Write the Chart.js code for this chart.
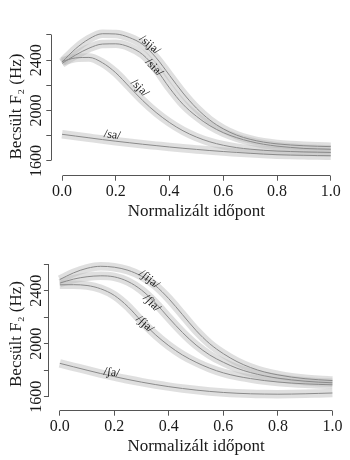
<!DOCTYPE html>
<html>
<head>
<meta charset="utf-8">
<script src="https://cdn.jsdelivr.net/npm/chart.js@4/dist/chart.umd.min.js"></script>
<style>
  html, body { margin: 0; padding: 0; background: #fff; }
  canvas { display: block; }
</style>
</head>
<body>
<canvas id="top" width="350" height="230"></canvas>
<canvas id="bottom" width="350" height="230"></canvas>
<script>
// normalised time points
const TIME = [0, 0.05, 0.1, 0.15, 0.2, 0.25, 0.3, 0.35, 0.4, 0.45, 0.5,
  0.55, 0.6, 0.65, 0.7, 0.75, 0.8, 0.85, 0.9, 0.95, 1];

// estimated F2 (Hz), upper panel
const SIJA = [2385, 2490, 2568, 2610, 2608, 2580, 2525, 2420, 2280, 2140, 2020,
  1925, 1855, 1805, 1772, 1750, 1736, 1727, 1721, 1717, 1714];
const SIA = [2375, 2440, 2495, 2528, 2530, 2505, 2445, 2330, 2180, 2050, 1955,
  1880, 1825, 1785, 1755, 1733, 1718, 1708, 1700, 1696, 1693];
const SJA = [2390, 2418, 2422, 2380, 2300, 2190, 2080, 1985, 1905, 1840, 1790,
  1752, 1725, 1706, 1694, 1685, 1679, 1675, 1672, 1670, 1668];
const SA = [1812, 1798, 1784, 1770, 1757, 1745, 1733, 1722, 1711, 1701, 1692,
  1683, 1675, 1668, 1661, 1655, 1650, 1647, 1645, 1643, 1642];

// estimated F2 (Hz), lower panel
const SHIJA = [2485, 2535, 2570, 2585, 2578, 2555, 2510, 2440, 2340, 2220, 2100,
  2000, 1925, 1865, 1820, 1787, 1765, 1748, 1736, 1728, 1722];
const SHIA = [2458, 2488, 2506, 2513, 2505, 2470, 2405, 2310, 2195, 2085, 1990,
  1915, 1860, 1815, 1782, 1758, 1740, 1727, 1717, 1710, 1705];
const SHJA = [2445, 2446, 2440, 2415, 2365, 2280, 2170, 2070, 1985, 1915, 1860,
  1815, 1780, 1755, 1737, 1722, 1711, 1703, 1697, 1693, 1690];
const SHA = [1852, 1826, 1800, 1775, 1752, 1730, 1710, 1692, 1676, 1662, 1650,
  1640, 1632, 1626, 1622, 1620, 1619, 1620, 1622, 1625, 1628];

const TOP_NAMES = ['/sija/', '/sia/', '/sja/', '/sa/'];
const BOTTOM_NAMES = ['/ʃija/', '/ʃia/', '/ʃja/', '/ʃa/'];

const X_TICKS = [0, 0.2, 0.4, 0.6, 0.8, 1];
const Y_TICKS = [1600, 1800, 2000, 2200, 2400, 2600];
const Y_LABELS = [1600, 2000, 2400];

const FONT = '"Liberation Serif", "Times New Roman", serif';
const INK = '#1a1a1a';
const AXIS = '#555';
const BAND = 'rgba(185, 185, 185, 0.45)';
const LINE = '#8a8a8a';

const align = (v) => Math.round(v - 0.5) + 0.5;

function makePanel(id, series, names, p) {
  const datasets = [];
  series.forEach((values) => {
    const data = TIME.map((x, i) => ({ x, y: values[i] }));
    datasets.push({
      data,
      borderColor: LINE,
      borderWidth: 1,
      order: 1,
    });
    datasets.push({
      data,
      borderColor: BAND,
      borderWidth: 8.5,
      borderCapStyle: 'butt',
      order: 2,
    });
  });

  // R-style axis lines, running from first to last tick only
  const rAxes = {
    id: 'rAxes',
    afterDraw(chart) {
      const { ctx, chartArea, scales: { x, y } } = chart;
      ctx.save();
      ctx.strokeStyle = AXIS;
      ctx.lineWidth = 1;
      ctx.beginPath();
      const by = align(chartArea.bottom);
      ctx.moveTo(align(x.getPixelForValue(X_TICKS[0])), by);
      ctx.lineTo(align(x.getPixelForValue(X_TICKS[X_TICKS.length - 1])), by);
      const lx = align(chartArea.left);
      ctx.moveTo(lx, align(y.getPixelForValue(Y_TICKS[0])));
      ctx.lineTo(lx, align(y.getPixelForValue(Y_TICKS[Y_TICKS.length - 1])));
      ctx.stroke();
      ctx.restore();
    },
  };

  // curve names written along the curves
  const curveLabels = {
    id: 'curveLabels',
    afterDatasetsDraw(chart) {
      const { ctx, scales: { x, y } } = chart;
      ctx.save();
      ctx.font = `12px ${FONT}`;
      ctx.fillStyle = INK;
      ctx.textAlign = 'center';
      ctx.textBaseline = 'middle';
      p.labels.forEach((item, i) => {
        ctx.save();
        ctx.translate(x.getPixelForValue(item.x), y.getPixelForValue(item.y));
        ctx.rotate((item.angle * Math.PI) / 180);
        ctx.fillText(names[i], 0, 0);
        ctx.restore();
      });
      ctx.restore();
    },
  };

  return new Chart(document.getElementById(id), {
    type: 'line',
    data: { datasets },
    plugins: [rAxes, curveLabels],
    options: {
      responsive: false,
      animation: false,
      devicePixelRatio: 1,
      layout: {
        padding: { left: 0, top: p.top, right: p.right, bottom: 0 },
      },
      datasets: {
        line: {
          pointRadius: 0,
          cubicInterpolationMode: 'monotone',
          clip: false,
        },
      },
      plugins: {
        legend: { display: false },
        tooltip: { enabled: false },
      },
      scales: {
        x: {
          type: 'linear',
          min: -0.04,
          max: 1.04,
          afterBuildTicks(scale) {
            scale.ticks = X_TICKS.map((value) => ({ value }));
          },
          afterFit(scale) {
            scale.height = p.xHeight;
            scale.paddingLeft = 0;
            scale.paddingRight = 0;
          },
          border: { display: false },
          grid: {
            drawOnChartArea: false,
            tickLength: 5,
            color: AXIS,
          },
          ticks: {
            autoSkip: false,
            maxRotation: 0,
            padding: 1,
            color: INK,
            font: { family: FONT, size: 16 },
            callback: (v) => v.toFixed(1),
          },
          title: {
            display: true,
            text: 'Normalizált időpont',
            color: INK,
            font: { family: FONT, size: 17 },
            padding: { top: 0, bottom: p.xTitlePad },
          },
        },
        y: {
          type: 'linear',
          min: p.yMin,
          max: p.yMax,
          afterBuildTicks(scale) {
            scale.ticks = Y_TICKS.map((value) => ({ value }));
          },
          afterFit(scale) {
            scale.width = p.left;
            scale.paddingTop = 0;
            scale.paddingBottom = 0;
          },
          border: { display: false },
          grid: {
            drawOnChartArea: false,
            tickLength: 5,
            color: AXIS,
          },
          ticks: {
            autoSkip: false,
            minRotation: 90,
            maxRotation: 90,
            crossAlign: 'center',
            padding: p.yTickPad,
            color: INK,
            font: { family: FONT, size: 16 },
            callback: (v) => (Y_LABELS.includes(v) ? String(v) : ''),
          },
          title: {
            display: true,
            text: 'Becsült F₂ (Hz)',
            color: INK,
            font: { family: FONT, size: 17 },
            padding: { top: 6.3, bottom: 0 },
          },
        },
      },
    },
  });
}

makePanel('top', [SIJA, SIA, SJA, SA], TOP_NAMES, {
  left: 51.3,
  right: 8.5,
  top: 37.3,
  xHeight: 54.3,
  yMin: 1483.3,
  yMax: 2581.7,
  yTickPad: -6.5,
  xTitlePad: 8.3,
  labels: [
    { x: 0.326, y: 2521, angle: 40 },
    { x: 0.342, y: 2342, angle: 45 },
    { x: 0.289, y: 2179, angle: 45 },
    { x: 0.187, y: 1806, angle: 8 },
  ],
});

makePanel('bottom', [SHIJA, SHIA, SHJA, SHA], BOTTOM_NAMES, {
  left: 48.9,
  right: 6.7,
  top: 27.3,
  xHeight: 49.3,
  yMin: 1494.3,
  yMax: 2652.9,
  yTickPad: -8.9,
  xTitlePad: 3.3,
  labels: [
    { x: 0.328, y: 2487, angle: 38 },
    { x: 0.337, y: 2305, angle: 45 },
    { x: 0.312, y: 2148, angle: 42 },
    { x: 0.19, y: 1783, angle: 8 },
  ],
});
</script>
</body>
</html>
